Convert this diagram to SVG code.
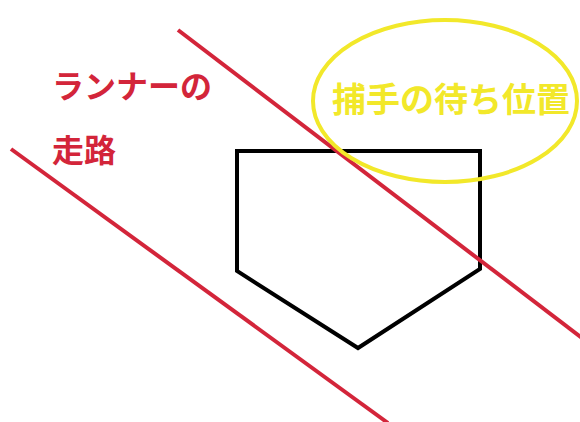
<svg xmlns="http://www.w3.org/2000/svg" width="580" height="422" viewBox="0 0 580 422">
<style>
.red{stroke:#d3253a;stroke-width:4;fill:none}
.plate{stroke:#000;stroke-width:4;fill:none;stroke-linejoin:miter}
.rt{fill:#d3253a;font-family:"Noto Sans CJK JP",sans-serif;font-weight:bold;font-size:32px}
.yt{fill:#f2e82a;font-family:"Noto Sans CJK JP",sans-serif;font-weight:bold;font-size:34px}
</style>
<rect width="580" height="422" fill="#fff"/>
<g id="plate"><polygon class="plate" points="237,151 480,151 480,269 358,348 237,271"/></g>
<g id="connectors">
<line class="red" x1="178" y1="30" x2="582" y2="338"/>
<line class="red" x1="11" y1="149" x2="388" y2="423"/>
</g>
<g id="runner-label">
<text class="rt" x="52" y="98">ランナーの</text>
<text class="rt" x="52" y="162">走路</text>
</g>
<g id="catcher-label">
<ellipse cx="445" cy="101" rx="132" ry="81" fill="none" stroke="#f2e82a" stroke-width="4"/>
<text class="yt" x="451" y="112" text-anchor="middle">捕手の待ち位置</text>
</g>
</svg>
